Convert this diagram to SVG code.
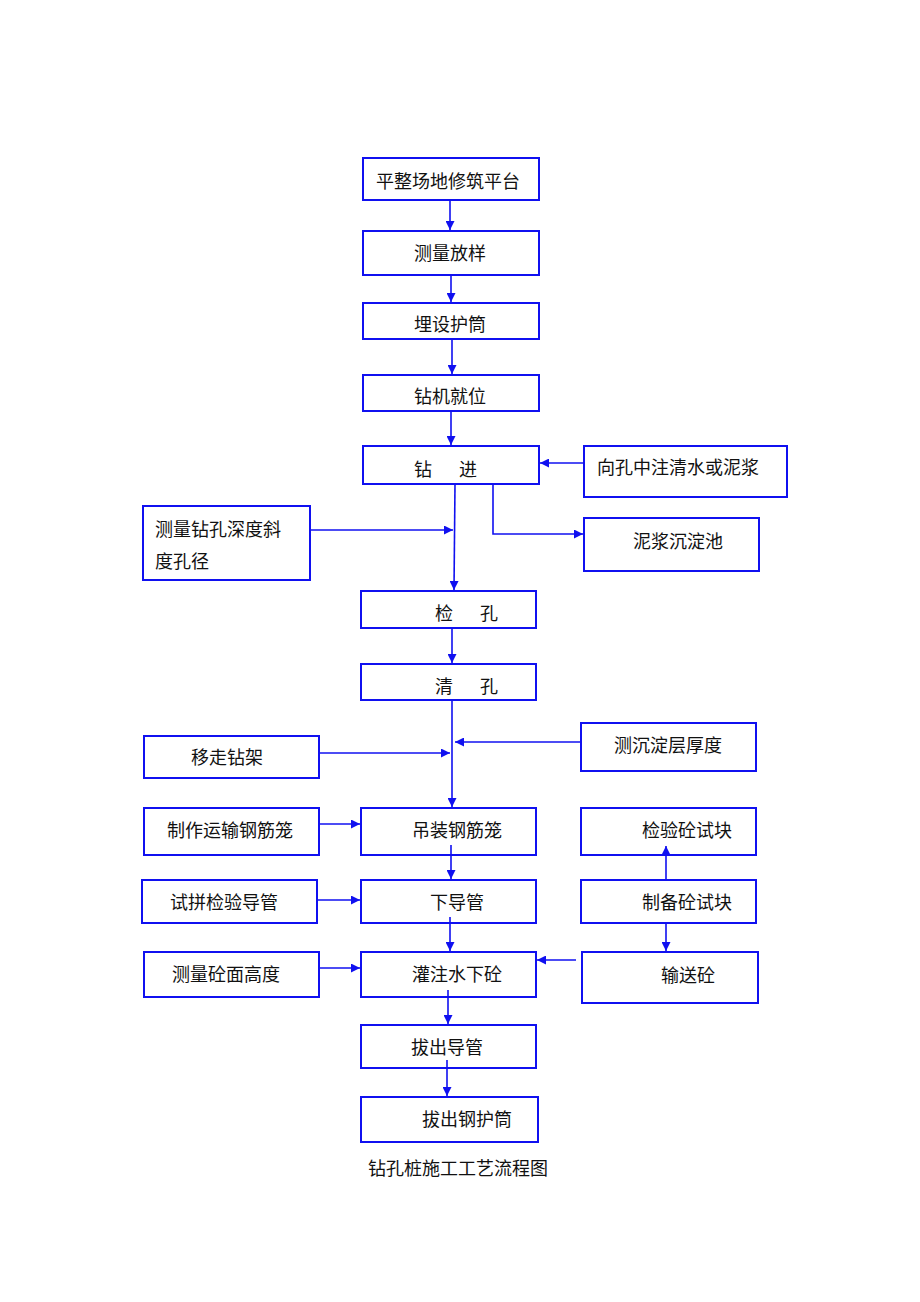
<svg xmlns="http://www.w3.org/2000/svg" width="920" height="1302" viewBox="0 0 920 1302">
<style>
.b{fill:#fff;stroke:#1010f0;stroke-width:2}
.t{font-family:"Noto Sans CJK SC","Liberation Sans",sans-serif;font-size:18px;fill:#111}
.c{fill:none;stroke:#1010f0;stroke-width:1.6}
</style>
<defs>
<marker id="a" viewBox="0 0 10 10" refX="10" refY="5" markerWidth="10" markerHeight="9" markerUnits="userSpaceOnUse" orient="auto">
<path d="M0,0L10,5L0,10z" fill="#1010f0"/>
</marker>
</defs>
<rect width="920" height="1302" fill="#fff"/>
<g id="n1"><rect class="b" x="363" y="158" width="176" height="42"/><text class="t" x="376" y="188">平整场地修筑平台</text></g>
<g id="n2"><rect class="b" x="363" y="231" width="176" height="44"/><text class="t" x="414" y="260">测量放样</text></g>
<g id="n3"><rect class="b" x="363" y="303" width="176" height="36"/><text class="t" x="414" y="331">埋设护筒</text></g>
<g id="n4"><rect class="b" x="363" y="375" width="176" height="36"/><text class="t" x="414" y="403">钻机就位</text></g>
<g id="n5"><rect class="b" x="363" y="446" width="176" height="38"/><text class="t" x="414" y="476">钻</text><text class="t" x="459" y="476">进</text></g>
<g id="n6"><rect class="b" x="584" y="446" width="203" height="51"/><text class="t" x="597" y="474">向孔中注清水或泥浆</text></g>
<g id="n7"><rect class="b" x="584" y="518" width="175" height="53"/><text class="t" x="633" y="548">泥浆沉淀池</text></g>
<g id="n8"><rect class="b" x="143" y="506" width="167" height="74"/><text class="t" x="155" y="536">测量钻孔深度斜</text><text class="t" x="155" y="568">度孔径</text></g>
<g id="n9"><rect class="b" x="361" y="591" width="175" height="37"/><text class="t" x="435" y="620">检</text><text class="t" x="480" y="620">孔</text></g>
<g id="n10"><rect class="b" x="361" y="664" width="175" height="36"/><text class="t" x="435" y="693">清</text><text class="t" x="480" y="693">孔</text></g>
<g id="n11"><rect class="b" x="144" y="736" width="175" height="42"/><text class="t" x="191" y="764">移走钻架</text></g>
<g id="n12"><rect class="b" x="581" y="723" width="175" height="48"/><text class="t" x="614" y="752">测沉淀层厚度</text></g>
<g id="n13"><rect class="b" x="144" y="808" width="175" height="47"/><text class="t" x="167" y="837">制作运输钢筋笼</text></g>
<g id="n14"><rect class="b" x="361" y="808" width="175" height="47"/><text class="t" x="412" y="837">吊装钢筋笼</text></g>
<g id="n15"><rect class="b" x="581" y="808" width="175" height="47"/><text class="t" x="642" y="837">检验砼试块</text></g>
<g id="n16"><rect class="b" x="142" y="880" width="175" height="43"/><text class="t" x="170" y="909">试拼检验导管</text></g>
<g id="n17"><rect class="b" x="361" y="880" width="175" height="43"/><text class="t" x="430" y="909">下导管</text></g>
<g id="n18"><rect class="b" x="581" y="880" width="175" height="43"/><text class="t" x="642" y="909">制备砼试块</text></g>
<g id="n19"><rect class="b" x="144" y="952" width="175" height="45"/><text class="t" x="172" y="981">测量砼面高度</text></g>
<g id="n20"><rect class="b" x="361" y="952" width="175" height="45"/><text class="t" x="412" y="981">灌注水下砼</text></g>
<g id="n21"><rect class="b" x="582" y="952" width="176" height="51"/><text class="t" x="661" y="982">输送砼</text></g>
<g id="n22"><rect class="b" x="361" y="1025" width="175" height="43"/><text class="t" x="411" y="1054">拔出导管</text></g>
<g id="n23"><rect class="b" x="361" y="1097" width="177" height="45"/><text class="t" x="422" y="1126">拔出钢护筒</text></g>
<g id="caption"><text class="t" x="368" y="1175">钻孔桩施工工艺流程图</text></g>
<g id="connectors">
<path class="c" d="M450,200V230" marker-end="url(#a)"/>
<path class="c" d="M451,275V302" marker-end="url(#a)"/>
<path class="c" d="M452,339V374" marker-end="url(#a)"/>
<path class="c" d="M451,411V445" marker-end="url(#a)"/>
<path class="c" d="M584,463H540" marker-end="url(#a)"/>
<path class="c" d="M493,484V534H583" marker-end="url(#a)"/>
<path class="c" d="M455,484L454,590" marker-end="url(#a)"/>
<path class="c" d="M310,530H453" marker-end="url(#a)"/>
<path class="c" d="M452,628V663" marker-end="url(#a)"/>
<path class="c" d="M452,700V807" marker-end="url(#a)"/>
<path class="c" d="M581,742H455" marker-end="url(#a)"/>
<path class="c" d="M319,753H450" marker-end="url(#a)"/>
<path class="c" d="M319,824H360" marker-end="url(#a)"/>
<path class="c" d="M451,845V879" marker-end="url(#a)"/>
<path class="c" d="M317,900H360" marker-end="url(#a)"/>
<path class="c" d="M666,880V846" marker-end="url(#a)"/>
<path class="c" d="M666,923V951" marker-end="url(#a)"/>
<path class="c" d="M450,917V951" marker-end="url(#a)"/>
<path class="c" d="M319,968H360" marker-end="url(#a)"/>
<path class="c" d="M576,960H537" marker-end="url(#a)"/>
<path class="c" d="M448,990V1024" marker-end="url(#a)"/>
<path class="c" d="M447,1060V1096" marker-end="url(#a)"/>
</g>
</svg>
